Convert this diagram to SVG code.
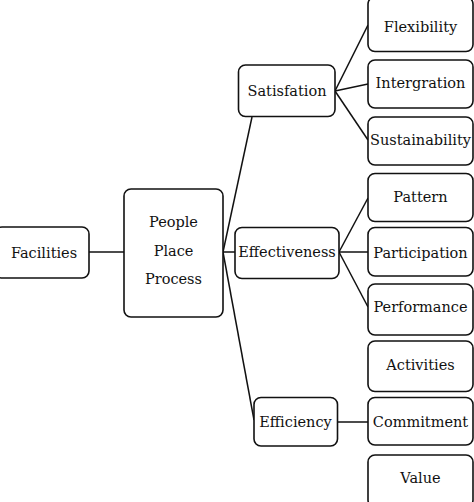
<svg xmlns="http://www.w3.org/2000/svg" width="474" height="502" viewBox="0 0 474 502">
<style>
.b{fill:#fff;stroke:#111;stroke-width:1.6}
.t{font-family:"DejaVu Serif","Liberation Serif",serif;font-size:14.5px;fill:#111;text-anchor:middle}
.c{stroke:#111;stroke-width:1.5;fill:none}
</style>
<rect width="474" height="502" fill="#fff"/>
<g id="connectors">
<line class="c" x1="89" y1="252" x2="124" y2="252"/>
<line class="c" x1="223" y1="252" x2="252" y2="117"/>
<line class="c" x1="223" y1="252" x2="235" y2="252"/>
<line class="c" x1="223" y1="252" x2="254" y2="420"/>
<line class="c" x1="335" y1="91" x2="368" y2="25"/>
<line class="c" x1="335" y1="91" x2="368" y2="84"/>
<line class="c" x1="335" y1="91" x2="368" y2="140"/>
<line class="c" x1="339" y1="252" x2="368" y2="198"/>
<line class="c" x1="339" y1="252" x2="368" y2="252"/>
<line class="c" x1="339" y1="252" x2="368" y2="307"/>
<line class="c" x1="337" y1="422" x2="368" y2="422"/>
</g>
<g id="facilities"><rect class="b" x="-5" y="227" width="94" height="51" rx="7"/><text class="t" x="44" y="258">Facilities</text></g>
<g id="ppp"><rect class="b" x="124" y="189" width="99" height="128" rx="7"/>
<text class="t" x="173.5" y="227">People</text><text class="t" x="173.5" y="256">Place</text><text class="t" x="173.5" y="284">Process</text></g>
<g id="satisfation"><rect class="b" x="238.5" y="65" width="96.5" height="51.5" rx="7"/><text class="t" x="287" y="96">Satisfation</text></g>
<g id="effectiveness"><rect class="b" x="235" y="227.5" width="104" height="51" rx="7"/><text class="t" x="287" y="257">Effectiveness</text></g>
<g id="efficiency"><rect class="b" x="254" y="397.5" width="83.5" height="48.5" rx="7"/><text class="t" x="295.5" y="427">Efficiency</text></g>
<g id="flexibility"><rect class="b" x="368" y="-3" width="105" height="54.5" rx="7"/><text class="t" x="420.5" y="32">Flexibility</text></g>
<g id="intergration"><rect class="b" x="368" y="60" width="105" height="48" rx="7"/><text class="t" x="420.5" y="88">Intergration</text></g>
<g id="sustainability"><rect class="b" x="368" y="117" width="105" height="48" rx="7"/><text class="t" x="420.5" y="145">Sustainability</text></g>
<g id="pattern"><rect class="b" x="368" y="173.5" width="105" height="48" rx="7"/><text class="t" x="420.5" y="202">Pattern</text></g>
<g id="participation"><rect class="b" x="368" y="227.5" width="105" height="48.5" rx="7"/><text class="t" x="420.5" y="258">Participation</text></g>
<g id="performance"><rect class="b" x="368" y="284" width="105" height="51" rx="7"/><text class="t" x="420.5" y="312">Performance</text></g>
<g id="activities"><rect class="b" x="368" y="341" width="105" height="50.5" rx="7"/><text class="t" x="420.5" y="370">Activities</text></g>
<g id="commitment"><rect class="b" x="368" y="397.5" width="105" height="47.5" rx="7"/><text class="t" x="420.5" y="427">Commitment</text></g>
<g id="value"><rect class="b" x="368" y="455" width="105" height="52" rx="7"/><text class="t" x="420.5" y="483">Value</text></g>
</svg>
